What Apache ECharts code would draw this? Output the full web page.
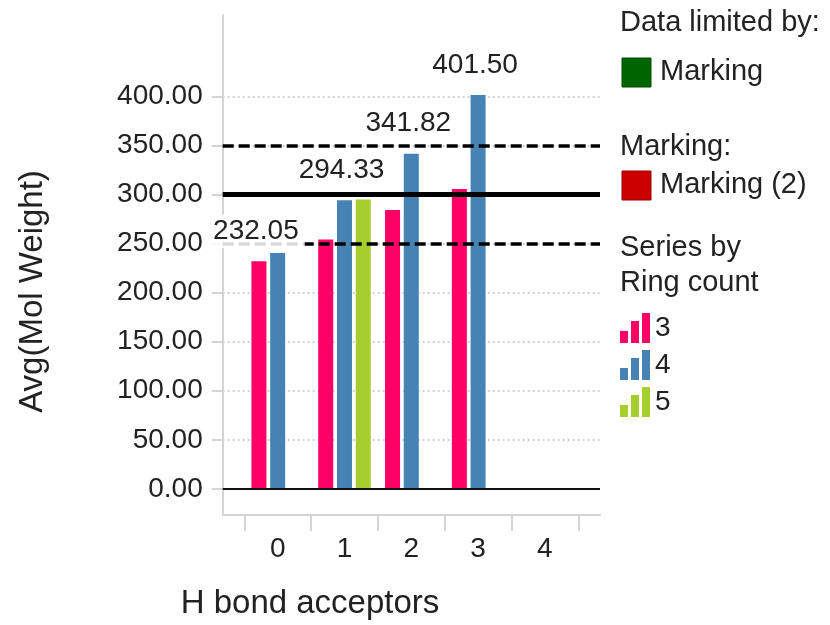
<!DOCTYPE html>
<html>
<head>
<meta charset="utf-8">
<script src="https://cdn.jsdelivr.net/npm/echarts@6/dist/echarts.min.js"></script>
<style>
html,body{margin:0;padding:0;background:#fff;}
#chart{width:830px;height:625px;}
</style>
</head>
<body>
<div id="chart"></div>
<script>
// ---- data ----
var categories = ['0', '1', '2', '3', '4'];
var ring3 = [232.05, 254.2, 284.4, 305.8, null];
var ring4 = [240.6, 294.33, 341.82, 401.50, null];
var ring5 = [null, 295.0, null, null, null];
var label3 = [true, false, false, false, false];
var label4 = [false, true, true, true, false];
var label5 = [false, false, false, false, false];
var yTicks = [0, 50, 100, 150, 200, 250, 300, 350, 400];
var refDashed = [250, 350];
var refSolid = [300];
var seriesNames = ['3', '4', '5'];
var seriesColors = ['#FF0066', '#4682B4', '#A6CE2C'];

var FONT = 'Liberation Sans, Arial, sans-serif';
var TXT = '#222';

function pairs(arr) {
  var out = [];
  arr.forEach(function (v, i) { if (v !== null) out.push([i, v]); });
  return out;
}
function labelPairs(arr, flags) {
  var out = [];
  arr.forEach(function (v, i) {
    if (v !== null) out.push({ value: [i, v], label: { show: !!flags[i] } });
  });
  return out;
}

var xMin = -0.823, xMax = 4.825;
var tickBounds = categories.map(function (c, i) { return i - 0.5; }).concat([categories.length - 0.5]);
var labelPos = categories.map(function (c, i) { return i; });

var chart = echarts.init(document.getElementById('chart'), null, { renderer: 'canvas' });

var allData = [ring3, ring4, ring5];
var allFlags = [label3, label4, label5];

var series = [];
allData.forEach(function (arr, k) {
  var s = {
    name: seriesNames[k],
    type: 'bar',
    xAxisIndex: 0,
    yAxisIndex: 0,
    z: 2,
    barWidth: 15,
    barGap: '25%',
    itemStyle: { color: seriesColors[k] },
    emphasis: { disabled: true },
    silent: true,
    data: pairs(arr)
  };
  if (k === 0) {
    var ml = [{ yAxis: 0, lineStyle: { color: '#111', width: 2, type: 'solid' } }];
    refDashed.forEach(function (v) {
      ml.push({ yAxis: v, lineStyle: { color: '#000', width: 3.5, type: [11, 5] } });
    });
    refSolid.forEach(function (v) {
      ml.push({ yAxis: v, lineStyle: { color: '#000', width: 5, type: 'solid' } });
    });
    s.markLine = {
      silent: true,
      symbol: 'none',
      label: { show: false },
      emphasis: { disabled: true },
      data: ml
    };
  }
  series.push(s);
});
// overlay series carrying the value labels (drawn above reference lines)
allData.forEach(function (arr, k) {
  series.push({
    name: 'lbl' + seriesNames[k],
    type: 'bar',
    xAxisIndex: 1,
    yAxisIndex: 0,
    z: 10,
    barWidth: 15,
    barGap: '25%',
    silent: true,
    emphasis: { disabled: true },
    itemStyle: { color: 'rgba(0,0,0,0)' },
    label: {
      show: false,
      position: 'top',
      distance: 13,
      offset: [-3, 0],
      fontFamily: FONT,
      fontSize: 28,
      color: TXT,
      backgroundColor: 'rgba(255,255,255,0.85)',
      padding: [3, 6],
      formatter: function (p) { return p.value[1].toFixed(2); }
    },
    data: labelPairs(arr, allFlags[k])
  });
});

var option = {
  animation: false,
  backgroundColor: '#fff',
  grid: { left: 222.7, right: 230, top: 15, bottom: 110, containLabel: false },
  xAxis: [{
    type: 'value',
    min: xMin,
    max: xMax,
    axisLine: { show: true, onZero: false, lineStyle: { color: '#d4d4d4', width: 2 } },
    axisTick: { show: true, length: 16, customValues: tickBounds, lineStyle: { color: '#d4d4d4', width: 2 } },
    axisLabel: {
      show: true, customValues: labelPos, margin: 20,
      fontFamily: FONT, fontSize: 28, color: TXT,
      formatter: function (v) { return categories[Math.round(v)]; }
    },
    splitLine: { show: false }
  }, {
    type: 'value',
    min: xMin,
    max: xMax,
    show: false
  }],
  yAxis: [{
    type: 'value',
    min: -26.7,
    max: 483.2,
    axisLine: { show: true, onZero: false, lineStyle: { color: '#d4d4d4', width: 2 } },
    axisTick: { show: true, length: 11, customValues: yTicks, lineStyle: { color: '#d4d4d4', width: 2 } },
    axisLabel: {
      show: true, customValues: yTicks, margin: 20,
      fontFamily: FONT, fontSize: 28, color: TXT,
      formatter: function (v) { return v.toFixed(2); }
    },
    splitLine: { show: true, lineStyle: { color: '#c4c4c4', width: 1.5, type: [2, 3] } }
  }],
  legend: {
    data: seriesNames,
    orient: 'vertical',
    left: 620,
    top: 313,
    itemWidth: 30,
    itemHeight: 30,
    itemGap: 7,
    padding: 0,
    selectedMode: false,
    icon: 'path://M0,30V18H8V30ZM11,30V8H19V30ZM22,30V0H30V30Z',
    textStyle: { fontFamily: FONT, fontSize: 28, color: TXT, padding: [0, 0, 0, 0] }
  },
  graphic: [
    { type: 'text', x: 33, y: 291.5, rotation: Math.PI / 2,
      style: { text: 'Avg(Mol Weight)', fontFamily: FONT, fontSize: 33, fill: TXT, textAlign: 'center', textVerticalAlign: 'middle' } },
    { type: 'text', x: 310, y: 604,
      style: { text: 'H bond acceptors', fontFamily: FONT, fontSize: 33, fill: TXT, textAlign: 'center', textVerticalAlign: 'middle' } },
    { type: 'text', x: 620, y: 23,
      style: { text: 'Data limited by:', fontFamily: FONT, fontSize: 29, fill: TXT, textAlign: 'left', textVerticalAlign: 'middle' } },
    { type: 'rect', shape: { x: 622, y: 58, width: 29, height: 29 },
      style: { fill: '#006400', stroke: '#004d00', lineWidth: 1 } },
    { type: 'text', x: 660, y: 72,
      style: { text: 'Marking', fontFamily: FONT, fontSize: 29, fill: TXT, textAlign: 'left', textVerticalAlign: 'middle' } },
    { type: 'text', x: 620, y: 147,
      style: { text: 'Marking:', fontFamily: FONT, fontSize: 29, fill: TXT, textAlign: 'left', textVerticalAlign: 'middle' } },
    { type: 'rect', shape: { x: 622, y: 171, width: 29, height: 29 },
      style: { fill: '#CC0000', stroke: '#990000', lineWidth: 1 } },
    { type: 'text', x: 660, y: 185,
      style: { text: 'Marking (2)', fontFamily: FONT, fontSize: 29, fill: TXT, textAlign: 'left', textVerticalAlign: 'middle' } },
    { type: 'text', x: 620, y: 248,
      style: { text: 'Series by', fontFamily: FONT, fontSize: 29, fill: TXT, textAlign: 'left', textVerticalAlign: 'middle' } },
    { type: 'text', x: 620, y: 283,
      style: { text: 'Ring count', fontFamily: FONT, fontSize: 29, fill: TXT, textAlign: 'left', textVerticalAlign: 'middle' } }
  ],
  series: series
};
chart.setOption(option);
</script>
</body>
</html>
